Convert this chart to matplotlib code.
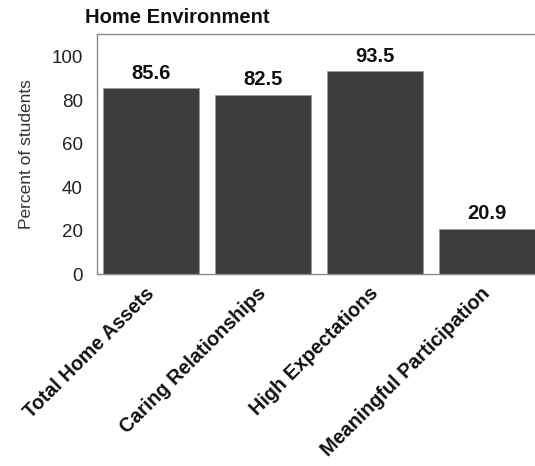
import matplotlib
matplotlib.use("Agg")
import matplotlib.pyplot as plt

categories = ["Total Home Assets", "Caring Relationships", "High Expectations", "Meaningful Participation"]
values = [85.6, 82.5, 93.5, 20.9]
yticks = [0, 20, 40, 60, 80, 100]

plt.rcParams['font.family'] = ['Liberation Sans', 'DejaVu Sans']

fig = plt.figure(figsize=(5.35, 4.66), dpi=100)
ax = fig.add_axes([0.181, 0.412, 0.819, 0.515])

x = list(range(len(categories)))
bars = ax.bar(x, values, width=0.857, color='#3d3d3d', edgecolor='#9a9a9a', linewidth=0.6)

for xi, v in zip(x, values):
    ax.text(xi, v + 2.5, f"{v:.1f}", ha='center', va='bottom', fontsize=14.5, fontweight='bold', color='#111111')

ax.set_xlim(-0.485, 3.43)
ax.set_ylim(0, 110.5)
ax.set_yticks(yticks)
ax.set_yticklabels([str(t) for t in yticks], fontsize=13.5, color='#222222')
ax.set_xticks(x)
ax.set_xticklabels(categories, rotation=45, ha='right', va='center', rotation_mode='anchor',
                   fontsize=14.2, fontweight='bold', color='#111111')
ax.tick_params(axis='both', length=0)
ax.tick_params(axis='y', pad=10)
ax.tick_params(axis='x', pad=12)

for s in ['left', 'top', 'bottom']:
    ax.spines[s].set_color('#8a8a8a')
    ax.spines[s].set_linewidth(1.0)
ax.spines['right'].set_visible(False)

ax.set_ylabel("Percent of students", fontsize=12.5, color='#333333', labelpad=13)

fig.text(0.159, 0.962, "Home Environment", fontsize=14.5, fontweight='bold', ha='left', va='center', color='#111111')

fig.savefig("out.png", dpi=100)
